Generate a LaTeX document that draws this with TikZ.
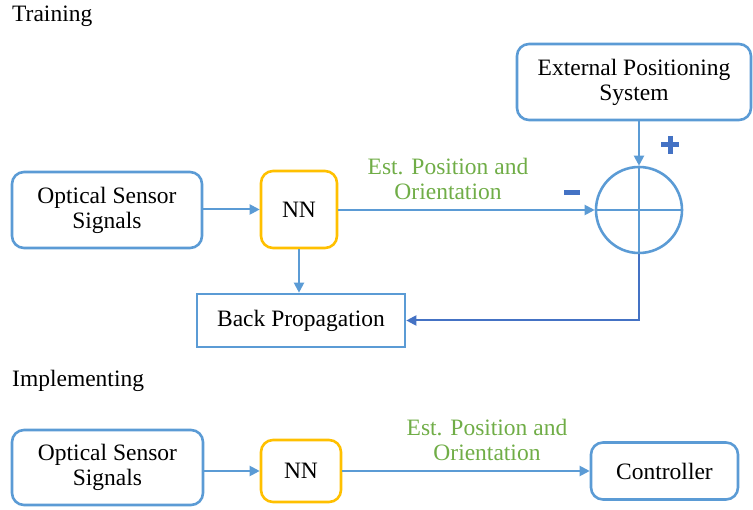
\documentclass[tikz,border=0pt]{standalone}
\usepackage{fontspec}
\setmainfont{Liberation Serif}
\usetikzlibrary{arrows.meta,calc}
\definecolor{cblue}{HTML}{5B9BD5}
\definecolor{dblue}{HTML}{4472C4}
\definecolor{corange}{HTML}{FFC000}
\definecolor{cgreen}{HTML}{70AD47}
\begin{document}
\begin{tikzpicture}[x=1pt,y=-1pt,
  every node/.style={font=\rmfamily\fontsize{23.5}{25}\selectfont, align=center, inner sep=0pt},
  rbox/.style={draw=cblue, line width=2.6pt, rounded corners=12pt, fill=white},
  nnbox/.style={draw=corange, line width=2.6pt, rounded corners=12pt, fill=white},
  sbox/.style={draw=cblue, line width=2.6pt, fill=white},
  conn/.style={draw=cblue, line width=2pt, -{Triangle[length=10pt,width=10pt]}},
  fb/.style={draw=dblue, line width=2pt},
  lbl/.style={text=cgreen},
  ttl/.style={anchor=base west}]
\useasboundingbox (0,0) rectangle (753,510);

\node[ttl] (t1) at (12,22) {Training};
\node[ttl] (t2) at (12,387) {Implementing};

% training
\node[rbox, minimum width=190pt, minimum height=76pt] (os1) at (107,210) {Optical Sensor\\Signals};
\node[nnbox, minimum width=76pt, minimum height=77pt] (nn1) at (299,209.5) {NN};
\node[sbox, minimum width=208pt, minimum height=53pt] (bp) at (301,320.5) {Back Propagation};
\node[rbox, minimum width=234pt, minimum height=76pt] (eps) at (634,82) {External Positioning\\System};
\node[circle, draw=cblue, line width=2.6pt, minimum size=86pt] (sum) at (639,210) {};
\draw[cblue, line width=1.3pt] (sum.north) -- (sum.south);
\draw[cblue, line width=1.3pt] (sum.west) -- (sum.east);

\draw[conn] (os1.east |- nn1.west) -- (nn1.west);
\draw[conn] (nn1.east |- sum.west) -- (sum.west);
\draw[conn] (sum.north |- eps.south) -- (sum.north);
\draw[conn] (nn1.south) -- (nn1.south |- bp.north);
\coordinate (corner) at (sum.south |- bp.east);
\draw[fb, -{Triangle[length=10pt,width=10pt]}] (sum.south) -- (corner) -- (bp.east);

\node[lbl] (l1) at (448,179) {Est. Position and\\Orientation};

\coordinate (pc) at (670,145);
\draw[dblue, line width=5pt] ($(pc)+(-9,0)$) -- ($(pc)+(9,0)$);
\draw[dblue, line width=5pt] ($(pc)+(0,-9)$) -- ($(pc)+(0,9)$);
\coordinate (mc) at (572,193);
\draw[dblue, line width=5pt] ($(mc)+(-8,0)$) -- ($(mc)+(8,0)$);

% implementing
\node[rbox, minimum width=191pt, minimum height=75pt] (os2) at (107.5,467.5) {Optical Sensor\\Signals};
\node[nnbox, minimum width=80pt, minimum height=62pt] (nn2) at (301,471) {NN};
\node[rbox, minimum width=147pt, minimum height=57pt] (ctl) at (664.5,471) {Controller};
\draw[conn] (os2.east |- nn2.west) -- (nn2.west);
\draw[conn] (nn2.east) -- (ctl.west);
\node[lbl] (l2) at (487,440) {Est. Position and\\Orientation};
\end{tikzpicture}
\end{document}
